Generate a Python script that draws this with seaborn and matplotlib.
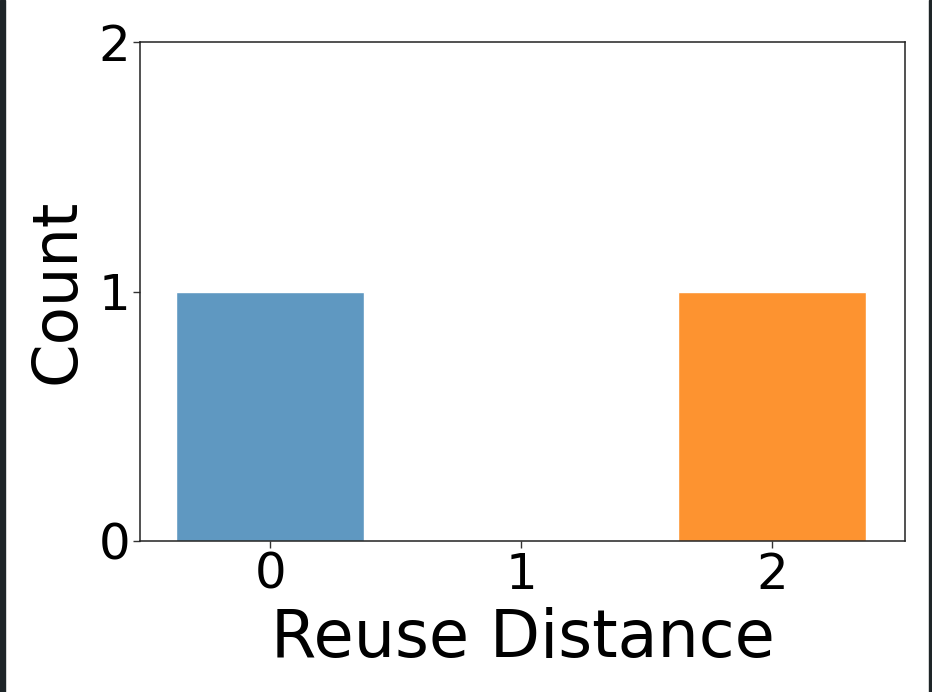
import matplotlib
matplotlib.use("Agg")
import matplotlib.pyplot as plt
import matplotlib.patches as mpatches
import pandas as pd
import seaborn as sns

# data
distances = ["0", "1", "2"]
counts = [1, 0, 1]
bar_colors = ["#5f98c1", "#5fae5f", "#fd9330"]

sns.set_style("ticks")
plt.rcParams['font.family'] = ['DejaVu Sans']
plt.rcParams['text.color'] = 'black'
plt.rcParams['axes.labelcolor'] = 'black'
plt.rcParams['xtick.color'] = 'black'
plt.rcParams['ytick.color'] = 'black'

df = pd.DataFrame({"distance": distances, "count": counts})

fig = plt.figure(figsize=(9.32, 6.92), dpi=100)
ax = fig.add_axes([140 / 932, 1 - 541 / 692, (905 - 140) / 932, (541 - 42) / 692])

sns.barplot(data=df, x="distance", y="count", hue="distance",
            palette=bar_colors, width=0.75, legend=False, ax=ax,
            saturation=1)

ax.set_xlim(-0.52, 2.53)
ax.set_ylim(0, 2)
ax.set_yticks([0, 1, 2])
ax.set_xlabel("Reuse Distance", fontsize=47, labelpad=6)
ax.set_ylabel("Count", fontsize=45, labelpad=8)
ax.tick_params(axis="both", labelsize=36, length=5, width=1, color="#333333", pad=2)
for s in ax.spines.values():
    s.set_color("#222222")
    s.set_linewidth(1.1)

# dark screenshot edges
fig.patches.append(mpatches.Rectangle((0, 0), 5 / 932, 1, transform=fig.transFigure,
                                      color="#1e2528", zorder=10))
fig.patches.append(mpatches.Rectangle((1 - 3 / 932, 0), 3 / 932, 1, transform=fig.transFigure,
                                      color="#1e2528", zorder=10))

fig.savefig("out.png", dpi=100)
